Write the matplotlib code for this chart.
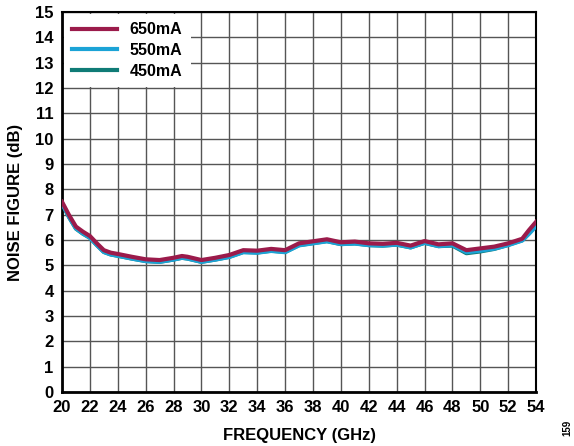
import matplotlib.pyplot as plt

plt.rcParams['font.family'] = ['Liberation Sans', 'DejaVu Sans']
plt.rcParams['font.weight'] = 'bold'

freq = [20, 20.5, 21, 21.5, 22, 22.5, 23, 23.5, 24, 25, 26, 27, 28, 28.6, 29,
        30, 31, 32, 33, 34, 35, 36, 37, 38, 39, 40, 41, 42, 43, 44, 45, 46,
        47, 48, 49, 50, 51, 52, 53, 53.5, 54]
nf_650 = [7.51, 6.99, 6.53, 6.33, 6.16, 5.87, 5.60, 5.50, 5.45, 5.34, 5.24,
          5.21, 5.30, 5.37, 5.34, 5.21, 5.30, 5.41, 5.60, 5.58, 5.65, 5.60,
          5.87, 5.95, 6.03, 5.91, 5.94, 5.87, 5.85, 5.89, 5.78, 5.96, 5.83,
          5.87, 5.60, 5.67, 5.74, 5.87, 6.05, 6.40, 6.72]
nf_550 = [7.45, 6.92, 6.46, 6.26, 6.09, 5.80, 5.53, 5.43, 5.38, 5.27, 5.17,
          5.14, 5.23, 5.30, 5.27, 5.14, 5.23, 5.33, 5.52, 5.50, 5.57, 5.52,
          5.79, 5.87, 5.95, 5.84, 5.86, 5.80, 5.78, 5.82, 5.71, 5.89, 5.76,
          5.80, 5.52, 5.58, 5.66, 5.80, 5.98, 6.25, 6.55]
nf_450 = [7.44, 6.91, 6.45, 6.25, 6.09, 5.80, 5.53, 5.43, 5.38, 5.27, 5.17,
          5.14, 5.23, 5.30, 5.27, 5.14, 5.23, 5.34, 5.53, 5.51, 5.58, 5.53,
          5.80, 5.88, 5.96, 5.84, 5.87, 5.80, 5.78, 5.82, 5.71, 5.89, 5.76,
          5.78, 5.48, 5.55, 5.65, 5.81, 5.99, 6.28, 6.60]

fig = plt.figure(figsize=(5.74, 4.46), dpi=100)
ax = fig.add_axes([0.108, 0.121, 0.826, 0.852])

ax.plot(freq, nf_450, color='#0f7b76', lw=3, label='450mA', zorder=3)
ax.plot(freq, nf_550, color='#1ba3d6', lw=3, label='550mA', zorder=4)
ax.plot(freq, nf_650, color='#9b1b4b', lw=3, label='650mA', zorder=5)

ax.set_xlim(20, 54)
ax.set_ylim(0, 15)
ax.set_xticks(range(20, 55, 2))
ax.set_yticks(range(0, 16))
ax.grid(True, color='#555555', lw=1)
ax.tick_params(length=0, labelsize=12, pad=6)
for lab in ax.get_xticklabels() + ax.get_yticklabels():
    lab.set_fontweight('bold')
for side in ['left', 'bottom']:
    ax.spines[side].set_linewidth(2)
for side in ['top', 'right']:
    ax.spines[side].set_linewidth(1.5)

ax.set_xlabel('FREQUENCY (GHz)', fontsize=12, fontweight='bold', labelpad=9)
ax.set_ylabel('NOISE FIGURE (dB)', fontsize=12, fontweight='bold', labelpad=9)

h, l = ax.get_legend_handles_labels()
leg = ax.legend(h[::-1], l[::-1], loc='upper left', fontsize=11.5,
                frameon=True, facecolor='white', edgecolor='none',
                framealpha=1, fancybox=False, handlelength=2.8,
                handletextpad=0.8, borderaxespad=0.1, borderpad=0.55,
                labelspacing=0.35)
for t in leg.get_texts():
    t.set_fontweight('bold')
leg.set_zorder(10)

fig.text(0.988, 0.04, '159', rotation=90, fontsize=7, ha='center', va='center')

fig.savefig('out.png', dpi=100)
